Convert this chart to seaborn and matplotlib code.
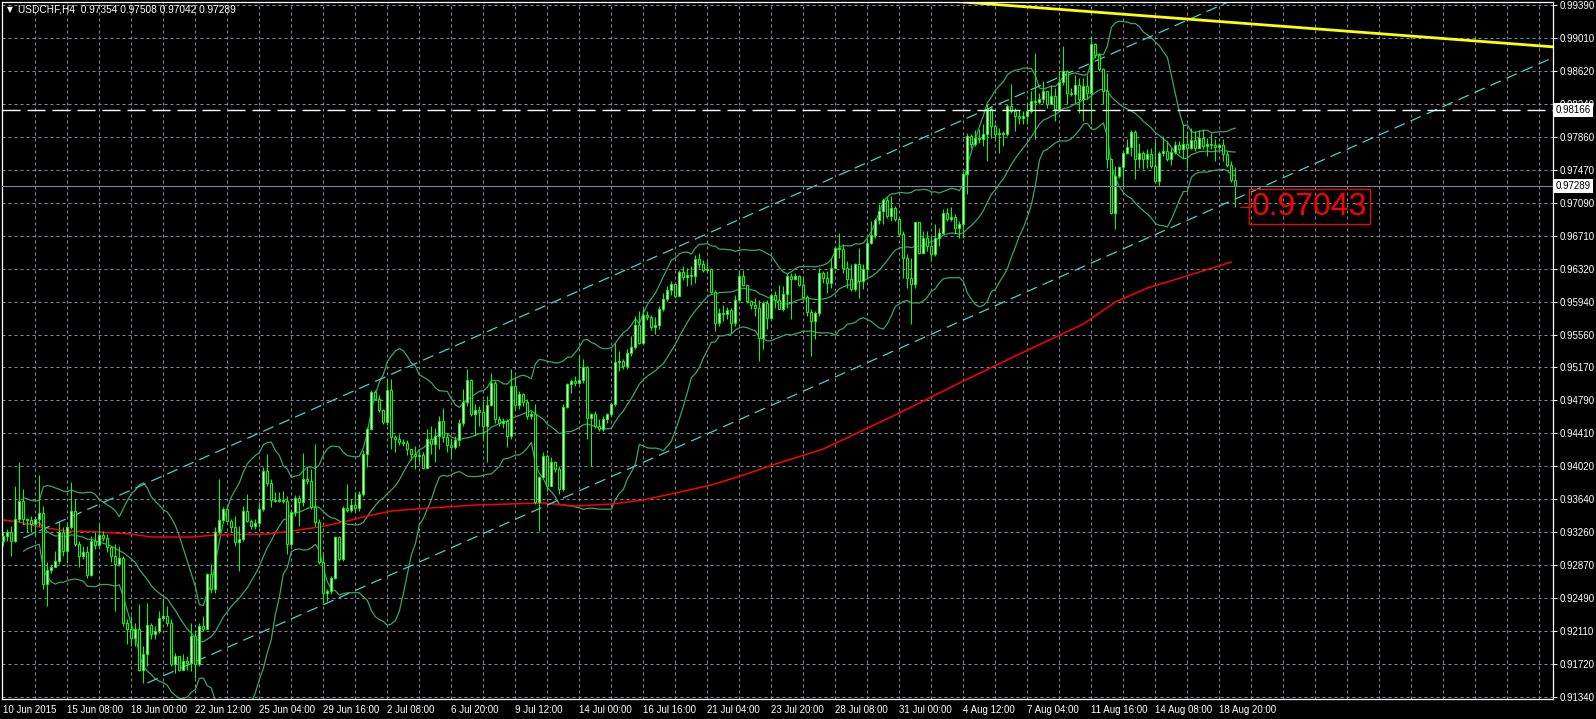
import matplotlib
matplotlib.use("Agg")
import matplotlib.pyplot as plt  # noqa: E402
import numpy as np  # noqa: E402
import pandas as pd  # noqa: E402
import seaborn as sns  # noqa: E402

# ── data (USDCHF, H4) ────────────────────────────────────────────────────────
HEADER = "USDCHF,H4  0.97354 0.97508 0.97042 0.97289"
FIRST_OPEN = 0.93158

closes = [
    0.93216, 0.93263, 0.93158, 0.93411, 0.93625, 0.93411, 0.93399, 0.93352, 0.93411, 0.93477,
    0.92652, 0.92820, 0.92858, 0.92925, 0.93255, 0.93041, 0.93314, 0.93508, 0.93119, 0.92983,
    0.93022, 0.92757, 0.93158, 0.93107, 0.93228, 0.93185, 0.93080, 0.92983, 0.92886, 0.92952,
    0.92205, 0.92135, 0.92030, 0.92127, 0.91660, 0.91835, 0.92178, 0.92069, 0.92108, 0.92263,
    0.92283, 0.92205, 0.91719, 0.91816, 0.91660, 0.91758, 0.91738, 0.92049, 0.91719, 0.92166,
    0.92135, 0.92769, 0.92594, 0.93263, 0.93403, 0.93528, 0.93391, 0.93314, 0.93139, 0.93177,
    0.93500, 0.93391, 0.93333, 0.93364, 0.93528, 0.93975, 0.93831, 0.93636, 0.93625, 0.93636,
    0.93621, 0.93119, 0.93489, 0.93652, 0.93605, 0.93878, 0.93858, 0.93547, 0.93372, 0.92905,
    0.92555, 0.92575, 0.92730, 0.93197, 0.92944, 0.93535, 0.93520, 0.93578, 0.93535, 0.93703,
    0.94169, 0.94461, 0.94889, 0.94811, 0.94675, 0.94539, 0.94908, 0.94364, 0.94344, 0.94306,
    0.94298, 0.94228, 0.94169, 0.94139, 0.94154, 0.94000, 0.94340, 0.94282, 0.94378, 0.94556,
    0.94359, 0.94270, 0.94243, 0.94328, 0.94526, 0.94773, 0.95028, 0.94630, 0.94680, 0.94657,
    0.94487, 0.94742, 0.94990, 0.94572, 0.94526, 0.94553, 0.94378, 0.94959, 0.94734, 0.94862,
    0.94773, 0.94611, 0.94630, 0.93605, 0.93895, 0.94139, 0.93798, 0.94069, 0.93992, 0.93760,
    0.94719, 0.94986, 0.95017, 0.94998, 0.95028, 0.95183, 0.94580, 0.94638, 0.94487, 0.94456,
    0.94572, 0.94630, 0.94746, 0.95237, 0.95249, 0.95191, 0.95346, 0.95415, 0.95663, 0.95462,
    0.95782, 0.95762, 0.95646, 0.95663, 0.95856, 0.95972, 0.96073, 0.96150, 0.96003, 0.96282,
    0.96227, 0.96254, 0.96235, 0.96436, 0.96382, 0.96313, 0.96320, 0.96050, 0.95694, 0.95810,
    0.95790, 0.95841, 0.95694, 0.95964, 0.96235, 0.96138, 0.95945, 0.95895, 0.95868, 0.95520,
    0.95926, 0.95752, 0.96011, 0.95964, 0.95856, 0.96034, 0.96235, 0.96197, 0.96243, 0.96138,
    0.95995, 0.95817, 0.95713, 0.95802, 0.96274, 0.96216, 0.96161, 0.96336, 0.96568, 0.96548,
    0.96336, 0.96200, 0.96084, 0.96374, 0.96181, 0.96316, 0.96626, 0.96715, 0.96885, 0.96994,
    0.97118, 0.96936, 0.97025, 0.96897, 0.96723, 0.96452, 0.96219, 0.96149, 0.96865, 0.96510,
    0.96684, 0.96587, 0.96490, 0.96684, 0.96742, 0.96974, 0.96897, 0.96924, 0.96792, 0.96839,
    0.97427, 0.97865, 0.97768, 0.97845, 0.97826, 0.97892, 0.98175, 0.97981, 0.97884, 0.97904,
    0.97884, 0.98213, 0.98155, 0.98097, 0.98078, 0.98097, 0.98155, 0.98279, 0.98264, 0.98291,
    0.98388, 0.98233, 0.98329, 0.98175, 0.98496, 0.98621, 0.98368, 0.98349, 0.98457, 0.98291,
    0.98446, 0.98368, 0.98937, 0.98813, 0.98647, 0.98388, 0.97594, 0.96974, 0.97400, 0.97505,
    0.97671, 0.97737, 0.97915, 0.97594, 0.97671, 0.97594, 0.97660, 0.97516, 0.97342, 0.97671,
    0.97690, 0.97594, 0.97679, 0.97760, 0.97710, 0.97768, 0.97729, 0.97814, 0.97722, 0.97845,
    0.97749, 0.97776, 0.97760, 0.97737, 0.97760, 0.97658, 0.97530, 0.97354, 0.97289,
]
highs = [
    0.93255, 0.93294, 0.93333, 0.93800, 0.94072, 0.93761, 0.93419, 0.93450, 0.93430, 0.93917,
    0.93566, 0.92905, 0.92886, 0.93041, 0.93372, 0.93314, 0.93372, 0.93846, 0.93644, 0.93158,
    0.93100, 0.93100, 0.93216, 0.93255, 0.93352, 0.93275, 0.93236, 0.93100, 0.93119, 0.93100,
    0.92983, 0.92244, 0.92283, 0.92205, 0.92419, 0.91933, 0.92438, 0.92205, 0.92166, 0.92341,
    0.92497, 0.92399, 0.92244, 0.91855, 0.91816, 0.91835, 0.91816, 0.92205, 0.92108, 0.92205,
    0.92283, 0.92788, 0.92886, 0.93314, 0.93878, 0.93547, 0.93566, 0.93411, 0.93450, 0.93333,
    0.93566, 0.93703, 0.93411, 0.93411, 0.93605, 0.94014, 0.94169, 0.93878, 0.93722, 0.93722,
    0.93742, 0.93683, 0.93528, 0.93691, 0.93691, 0.94181, 0.94014, 0.93995, 0.94286, 0.93411,
    0.93022, 0.92594, 0.92750, 0.93216, 0.93216, 0.93566, 0.93819, 0.93644, 0.93722, 0.93742,
    0.94208, 0.94481, 0.94908, 0.94908, 0.94850, 0.94695, 0.95045, 0.95045, 0.94383, 0.94403,
    0.94344, 0.94325, 0.94228, 0.94262, 0.94224, 0.94185, 0.94456, 0.94495, 0.94475, 0.94611,
    0.94707, 0.94417, 0.94340, 0.94378, 0.94572, 0.94920, 0.95152, 0.95044, 0.94746, 0.94727,
    0.94785, 0.94843, 0.95106, 0.95017, 0.94611, 0.94591, 0.94572, 0.95152, 0.95075, 0.94901,
    0.94881, 0.94804, 0.94669, 0.94746, 0.93915, 0.94185, 0.94166, 0.94127, 0.94089, 0.94031,
    0.94746, 0.94998, 0.95036, 0.95075, 0.95307, 0.95268, 0.95191, 0.94649, 0.94669, 0.94572,
    0.94611, 0.94649, 0.94765, 0.95461, 0.95365, 0.95268, 0.95384, 0.95539, 0.95771, 0.95829,
    0.95862, 0.95830, 0.95782, 0.95762, 0.95887, 0.96042, 0.96119, 0.96177, 0.96119, 0.96313,
    0.96351, 0.96332, 0.96351, 0.96487, 0.96506, 0.96429, 0.96409, 0.96332, 0.96080, 0.95868,
    0.95906, 0.95879, 0.95868, 0.96022, 0.96313, 0.96313, 0.96138, 0.95964, 0.95984, 0.95964,
    0.95945, 0.95964, 0.96042, 0.96061, 0.96138, 0.96119, 0.96274, 0.96274, 0.96274, 0.96254,
    0.96235, 0.96022, 0.95848, 0.95829, 0.96332, 0.96293, 0.96297, 0.96452, 0.96587, 0.96742,
    0.96606, 0.96413, 0.96374, 0.96394, 0.96568, 0.96374, 0.96684, 0.96877, 0.96916, 0.97071,
    0.97148, 0.97156, 0.97168, 0.97052, 0.96916, 0.96761, 0.96490, 0.96452, 0.96870, 0.96808,
    0.96761, 0.96761, 0.96703, 0.96839, 0.96800, 0.97013, 0.97032, 0.97040, 0.96955, 0.96877,
    0.97458, 0.97904, 0.97892, 0.97931, 0.97942, 0.98000, 0.98233, 0.98213, 0.98008, 0.97962,
    0.97923, 0.98233, 0.98473, 0.98194, 0.98163, 0.98155, 0.98233, 0.98388, 0.98833, 0.98368,
    0.98504, 0.98388, 0.98465, 0.98426, 0.98621, 0.98911, 0.98639, 0.98426, 0.98581, 0.98542,
    0.98542, 0.98581, 0.99027, 0.98949, 0.98833, 0.98659, 0.98600, 0.97613, 0.97516, 0.97516,
    0.97690, 0.97826, 0.97931, 0.97931, 0.97787, 0.97690, 0.97710, 0.97729, 0.97807, 0.97690,
    0.97865, 0.97807, 0.97729, 0.97807, 0.97807, 0.98000, 0.97923, 0.97962, 0.97923, 0.97931,
    0.97942, 0.97845, 0.97904, 0.97826, 0.97787, 0.97826, 0.97690, 0.97580, 0.97508,
]
lows = [
    0.93100, 0.93158, 0.92983, 0.93146, 0.93372, 0.93352, 0.93255, 0.93255, 0.93216, 0.93333,
    0.92594, 0.92399, 0.92788, 0.92886, 0.92886, 0.92983, 0.92897, 0.93294, 0.93100, 0.92847,
    0.92944, 0.92730, 0.92750, 0.93061, 0.93080, 0.93158, 0.93022, 0.92905, 0.92341, 0.92866,
    0.92166, 0.91952, 0.91933, 0.91933, 0.91641, 0.91505, 0.91699, 0.92010, 0.92010, 0.92088,
    0.92244, 0.92166, 0.91699, 0.91621, 0.91641, 0.91660, 0.91660, 0.91641, 0.91563, 0.91699,
    0.92108, 0.92127, 0.92555, 0.92555, 0.93236, 0.93372, 0.93372, 0.93255, 0.93100, 0.92808,
    0.93158, 0.93372, 0.93294, 0.93294, 0.93314, 0.93508, 0.93800, 0.93547, 0.93605, 0.93605,
    0.93598, 0.93002, 0.93100, 0.93450, 0.93333, 0.93566, 0.93819, 0.93528, 0.93333, 0.92886,
    0.92438, 0.92458, 0.92536, 0.92711, 0.92925, 0.92925, 0.93489, 0.93489, 0.93508, 0.93508,
    0.93683, 0.94014, 0.94442, 0.94792, 0.94656, 0.94519, 0.94500, 0.94228, 0.94189, 0.94267,
    0.94259, 0.94150, 0.94092, 0.93992, 0.94069, 0.93992, 0.94166, 0.94166, 0.94069, 0.94224,
    0.94301, 0.94185, 0.94108, 0.94224, 0.94262, 0.94495, 0.94727, 0.94611, 0.94378, 0.94495,
    0.94340, 0.94069, 0.94727, 0.94533, 0.94495, 0.94475, 0.94243, 0.94340, 0.94688, 0.94688,
    0.94727, 0.94572, 0.94572, 0.93586, 0.93276, 0.93876, 0.93740, 0.93837, 0.93953, 0.93702,
    0.93740, 0.94707, 0.94881, 0.94959, 0.94978, 0.94998, 0.94340, 0.94031, 0.94475, 0.94437,
    0.94437, 0.94533, 0.94611, 0.94727, 0.95133, 0.95152, 0.95152, 0.95307, 0.95384, 0.95442,
    0.95655, 0.95724, 0.95608, 0.95558, 0.95616, 0.95829, 0.95945, 0.96022, 0.95984, 0.96061,
    0.96196, 0.96119, 0.96138, 0.96158, 0.96332, 0.96282, 0.96274, 0.96042, 0.95597, 0.95655,
    0.95713, 0.95732, 0.95578, 0.95655, 0.95945, 0.96119, 0.95926, 0.95848, 0.95771, 0.95249,
    0.95384, 0.95616, 0.95732, 0.95868, 0.95848, 0.95829, 0.95868, 0.95732, 0.96196, 0.96119,
    0.95964, 0.95771, 0.95307, 0.95500, 0.95771, 0.96158, 0.96045, 0.96103, 0.96316, 0.96452,
    0.96277, 0.96103, 0.96065, 0.96065, 0.95987, 0.96084, 0.96219, 0.96606, 0.96684, 0.96839,
    0.96846, 0.96916, 0.96877, 0.96877, 0.96703, 0.96219, 0.96103, 0.95677, 0.96103, 0.96490,
    0.96490, 0.96529, 0.96413, 0.96471, 0.96587, 0.96723, 0.96877, 0.96877, 0.96742, 0.96684,
    0.96684, 0.97187, 0.97729, 0.97749, 0.97787, 0.97749, 0.97574, 0.97845, 0.97826, 0.97671,
    0.97749, 0.97865, 0.98136, 0.97923, 0.98001, 0.98000, 0.98000, 0.98136, 0.97826, 0.98233,
    0.98252, 0.98194, 0.98252, 0.98039, 0.98155, 0.98465, 0.98233, 0.98329, 0.98233, 0.98136,
    0.98039, 0.98291, 0.98000, 0.98775, 0.98628, 0.98233, 0.97497, 0.96955, 0.96781, 0.97381,
    0.97284, 0.97652, 0.97632, 0.97361, 0.97497, 0.97478, 0.97497, 0.97497, 0.97323, 0.97284,
    0.97632, 0.97574, 0.97528, 0.97652, 0.97671, 0.97613, 0.97497, 0.97710, 0.97690, 0.97729,
    0.97710, 0.97632, 0.97710, 0.97574, 0.97690, 0.97574, 0.97500, 0.97330, 0.97042,
]

# long moving average (red), read at a set of bars
ma_bar = [0, 4, 9, 16, 24, 32, 37, 47, 53, 66, 72, 79, 85, 91, 97, 103, 118, 135,
          143, 152, 160, 168, 177, 185, 193, 205, 224, 239, 254, 270, 278, 286, 295, 307]
ma_val = [0.93399, 0.93376, 0.93318, 0.93271, 0.93259, 0.93236, 0.93201, 0.93201,
          0.93224, 0.93236, 0.93271, 0.93318, 0.93376, 0.93446, 0.93504, 0.93527,
          0.93574, 0.93597, 0.93562, 0.93585, 0.93632, 0.93713, 0.93806, 0.93922,
          0.94050, 0.94225, 0.94644, 0.94993, 0.95330, 0.95679, 0.95935, 0.96098,
          0.96226, 0.96400]

# drawn objects: channel (two parallel rays), resistance trend line, levels
chan_upper_bar = [5, 310]
chan_upper_px = [0.93190, 0.99504]
chan_lower_bar = [36, 388]
chan_lower_px = [0.91503, 0.98790]
yellow_bar = [230, 388]
yellow_px = [0.99460, 0.98901]
level_line = 0.98166
bid_line = 0.97289
low_mark = 0.97043

date_labels = ["10 Jun 2015", "15 Jun 08:00", "18 Jun 00:00", "22 Jun 12:00",
               "25 Jun 04:00", "29 Jun 16:00", "2 Jul 08:00", "6 Jul 20:00",
               "9 Jul 12:00", "14 Jul 00:00", "16 Jul 16:00", "21 Jul 04:00",
               "23 Jul 20:00", "28 Jul 08:00", "31 Jul 00:00", "4 Aug 12:00",
               "7 Aug 04:00", "11 Aug 16:00", "14 Aug 08:00", "18 Aug 20:00"]
price_labels = ["0.91340", "0.91720", "0.92110", "0.92490", "0.92870", "0.93260",
                "0.93640", "0.94020", "0.94410", "0.94790", "0.95170", "0.95560",
                "0.95940", "0.96320", "0.96710", "0.97090", "0.97470", "0.97860",
                "0.98240", "0.98620", "0.99010", "0.99390"]
PRICE_MIN, PRICE_MAX = 0.91340, 0.99390

# ── style ────────────────────────────────────────────────────────────────────
sns.set_style("dark", {"axes.facecolor": "black", "figure.facecolor": "black"})
plt.rcParams["font.family"] = ["Liberation Sans", "DejaVu Sans"]

LIME = "#00FF00"
GRID = "#7f8c99"
BB_COL = "#3aa46e"
CYAN = "#48D1CC"

W, H = 1596, 719
fig = plt.figure(figsize=(W / 100, H / 100), dpi=100)
left, right, top, bottom = 2, 1553, 2, 699
ax = fig.add_axes([left / W, 1 - bottom / H, (right - left) / W, (bottom - top) / H])
ax.set_facecolor("black")

n = len(closes)
bars = np.arange(n)
c = np.array(closes)
o = np.concatenate([[FIRST_OPEN], c[:-1]])
hi = np.maximum(np.array(highs), np.maximum(o, c))
lo = np.minimum(np.array(lows), np.minimum(o, c))

ax.set_xlim(-0.33, 387.4)
ax.set_ylim(0.91317, 0.99425)

# grid
ticks = np.linspace(PRICE_MIN, PRICE_MAX, len(price_labels))
for t in ticks:
    ax.axhline(t, color=GRID, lw=0.72, ls=(0, (3, 3)), zorder=0.5)
for b in range(8, 390, 8):
    ax.axvline(b, color=GRID, lw=0.72, ls=(0, (3, 3)), zorder=0.5)

# Bollinger bands (20, 2)
s = pd.Series(c)
mid = s.rolling(20, min_periods=6).mean()
dev = s.rolling(20, min_periods=6).std(ddof=0)
bb = pd.DataFrame({"bar": bars, "mid": mid, "up": mid + 2 * dev, "dn": mid - 2 * dev})
for col in ["up", "mid", "dn"]:
    sns.lineplot(data=bb, x="bar", y=col, ax=ax, color=BB_COL, lw=0.9,
                 legend=False, zorder=1)

# red moving average
sns.lineplot(x=ma_bar, y=ma_val, ax=ax, color="#FF0000", lw=1.1, legend=False,
             zorder=2, estimator=None, sort=False)

# channel + trend line
ax.plot(chan_upper_bar, chan_upper_px, color=CYAN, lw=0.9, ls=(0, (9, 5)), zorder=2)
ax.plot(chan_lower_bar, chan_lower_px, color=CYAN, lw=0.9, ls=(0, (9, 5)), zorder=2)
ax.plot(yellow_bar, yellow_px, color="#FFFF00", lw=2, zorder=2, solid_capstyle="butt")

# candles
ax.vlines(bars, lo, hi, color=LIME, lw=0.75, zorder=3)
body_lo = np.minimum(o, c)
body_h = np.abs(c - o)
fill = np.where(c >= o, "white", "black")
ax.bar(bars, body_h, bottom=body_lo, width=0.5, color=fill, edgecolor=LIME,
       linewidth=0.75, zorder=4)

# horizontal levels
ax.axhline(level_line, color="white", lw=1, ls=(0, (13, 5)), zorder=5)
ax.axhline(bid_line, color="#778899", lw=0.8, zorder=5)

# low price marker
ax.plot([309.2, 311.9], [low_mark, low_mark], color="#FF0000", lw=0.8, zorder=5)
ax.text(312.1, low_mark, f"{low_mark:.5f}", color="#FF0000", fontsize=23,
        va="center", ha="left", zorder=6,
        bbox=dict(boxstyle="square,pad=0.08", fc="none", ec="#FF0000", lw=0.9))

# axes, ticks, labels
for sp in ax.spines.values():
    sp.set_color("white")
    sp.set_linewidth(0.9)
ax.yaxis.tick_right()
ax.set_yticks(ticks)
ax.set_yticklabels(price_labels)
ax.set_xticks(np.arange(0, 16 * len(date_labels), 16))
ax.set_xticklabels(date_labels, ha="left")
ax.tick_params(axis="both", colors="white", labelsize=7, length=3, width=0.7,
               direction="out")
ax.tick_params(axis="y", pad=2)
ax.tick_params(axis="x", pad=1.5)
ax.set_xlabel("")
ax.set_ylabel("")
ax.grid(False)

ytr = ax.get_yaxis_transform()
for lvl, col in [(level_line, "white"), (bid_line, "white")]:
    ax.text(1.0018, lvl, f"{lvl:.5f}", transform=ytr, color="black", fontsize=7,
            va="center", ha="left", zorder=10, clip_on=False,
            bbox=dict(boxstyle="square,pad=0.2", fc=col, ec="none"))

fig.text(7 / W, 1 - 10 / H, "▼", color="white", fontsize=5.5, va="center",
         ha="left", family=["DejaVu Sans"])
fig.text(18 / W, 1 - 10 / H, HEADER, color="white", fontsize=7.3, va="center",
         ha="left")

fig.savefig("out.png", dpi=100, facecolor="black")
